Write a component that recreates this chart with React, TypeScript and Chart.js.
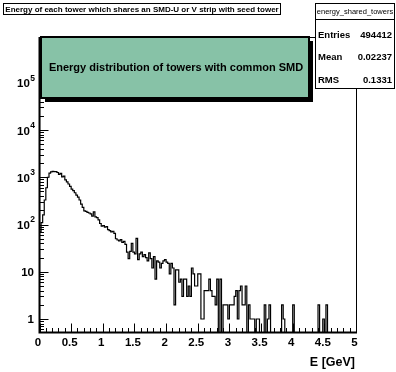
import React, { useEffect, useRef } from "react";
import { Chart, registerables } from "chart.js";

Chart.register(...registerables);

// ---------- data ----------
const binWidth = 0.025;
const xMin = 0;
const xMax = 5;
const yMin = 0.518;
const yMax = 9.3e5;

const counts: number[] = [
  474000, 70, 110, 160, 330, 600, 1000, 1220, 1300, 1330,
  1310, 1320, 1260, 1150, 1210, 1020, 1060, 880, 800, 720,
  640, 560, 520, 470, 420, 380, 330, 270, 230, 195,
  190, 180, 175, 168, 150, 185, 145, 140, 125, 105,
  92, 95, 88, 90, 78, 74, 70, 72, 65, 50,
  47, 45, 48, 42, 44, 38, 26, 19, 27, 40,
  26, 24, 51, 18, 24, 26, 21, 23, 20, 17,
  25, 19, 12, 21, 7, 17, 16, 12, 15, 17,
  18, 16, 15, 9, 15, 12, 2, 11, 11, 6,
  7, 3, 7, 7, 3, 5, 3, 12, 9, 5,
  5, 9, 9, 1, 1, 4, 4, 4, 7, 4,
  3, 3, 2, 7, 0, 7, 0, 2, 2, 2,
  1, 2, 2, 2, 3, 4, 1, 4, 5, 2,
  2, 5, 0, 2, 1, 1, 1, 0, 1, 1,
  0, 0, 0, 2, 0, 1, 2, 0, 0, 0,
  0, 0, 0, 0, 2, 1, 0, 0, 0, 0,
  0, 2, 0, 0, 0, 0, 0, 0, 0, 0,
  0, 0, 0, 0, 0, 0, 0, 2, 0, 0,
  1, 0, 2, 0, 0, 0, 0, 0, 0, 0,
  0, 0, 0, 0, 0, 0, 0, 0, 0, 0,
];

const xTickValues = [0, 0.5, 1, 1.5, 2, 2.5, 3, 3.5, 4, 4.5, 5];
const xTickLabels = ["0", "0.5", "1", "1.5", "2", "2.5", "3", "3.5", "4", "4.5", "5"];
const yTickValues = [1, 10, 100, 1000, 10000, 100000];
const yTickBases = ["1", "10", "10", "10", "10", "10"];
const yTickExponents = ["", "", "2", "3", "4", "5"];

const histTitle = "Energy of each tower which shares an SMD-U or V strip with seed tower";
const statsName = "energy_shared_towers";
const statsLabels = ["Entries", "Mean", "RMS"];
const statsValues = ["494412", "0.02237", "0.1331"];
const paveText = "Energy distribution of towers with common SMD";
const xTitle = "E [GeV]";

const FONT = '"Liberation Sans", Arial, Helvetica, sans-serif';

// ---------- overlay plugin ----------
const rootStyle = {
  id: "rootStyle",
  afterDraw(chart: any) {
    const ctx: CanvasRenderingContext2D = chart.ctx;
    const { left, right, top, bottom } = chart.chartArea;
    const xs = chart.scales.x;
    const ys = chart.scales.y;
    ctx.save();
    ctx.strokeStyle = "#000";
    ctx.fillStyle = "#000";

    // frame
    ctx.lineWidth = 1;
    ctx.beginPath();
    ctx.moveTo(right + 0.5, top);
    ctx.lineTo(right + 0.5, bottom);
    ctx.moveTo(left, top + 0.5);
    ctx.lineTo(right, top + 0.5);
    ctx.stroke();
    ctx.lineWidth = 2;
    ctx.beginPath();
    ctx.moveTo(left, top);
    ctx.lineTo(left, bottom);
    ctx.lineTo(right + 1, bottom);
    ctx.stroke();

    // x ticks
    ctx.lineWidth = 1;
    ctx.beginPath();
    for (let k = 0; k <= 50; k++) {
      const v = k / 10;
      const px = Math.round(xs.getPixelForValue(v)) + 0.5;
      const len = k % 5 === 0 ? 9 : 4.5;
      ctx.moveTo(px, bottom);
      ctx.lineTo(px, bottom - len);
    }
    // y ticks
    for (let d = -1; d <= 5; d++) {
      for (let m = 1; m <= 9; m++) {
        const v = m * Math.pow(10, d);
        if (v < yMin || v > yMax) continue;
        const py = Math.round(ys.getPixelForValue(v)) + 0.5;
        const len = m === 1 ? 9 : 4.5;
        ctx.moveTo(left, py);
        ctx.lineTo(left + len, py);
      }
    }
    ctx.stroke();

    // x labels
    ctx.font = `bold 11.5px ${FONT}`;
    ctx.textAlign = "center";
    ctx.textBaseline = "middle";
    xTickValues.forEach((v, i) => {
      ctx.fillText(xTickLabels[i], xs.getPixelForValue(v) - 1.5, bottom + 10);
    });
    ctx.textAlign = "right";
    ctx.font = `bold 12.5px ${FONT}`;
    ctx.fillText(xTitle, right - 1, bottom + 30);

    // y labels
    yTickValues.forEach((v, i) => {
      const py = ys.getPixelForValue(v);
      const ex = yTickExponents[i];
      if (ex) {
        ctx.font = `bold 8.5px ${FONT}`;
        ctx.textAlign = "right";
        ctx.fillText(ex, 35, py - 4.5);
        const w = ctx.measureText(ex).width;
        ctx.font = `bold 11.5px ${FONT}`;
        ctx.fillText(yTickBases[i], 35 - w - 0.5, py + 1.5);
      } else {
        ctx.font = `bold 11.5px ${FONT}`;
        ctx.textAlign = "right";
        ctx.fillText(yTickBases[i], 34, py + 1);
      }
    });

    // green pave
    const gx1 = 41, gy1 = 37, gx2 = 309, gy2 = 98;
    ctx.fillStyle = "#000";
    ctx.fillRect(gx1 + 4, gy1 + 4, gx2 - gx1, gy2 - gy1);
    ctx.fillStyle = "rgb(135,194,167)";
    ctx.fillRect(gx1, gy1, gx2 - gx1, gy2 - gy1);
    ctx.lineWidth = 2;
    ctx.strokeStyle = "#000";
    ctx.strokeRect(gx1, gy1, gx2 - gx1, gy2 - gy1);
    ctx.fillStyle = "#000";
    ctx.font = `bold 11px ${FONT}`;
    ctx.textAlign = "center";
    ctx.fillText(paveText, (gx1 + gx2) / 2 + 1, (gy1 + gy2) / 2);

    // title box
    ctx.lineWidth = 1;
    ctx.fillStyle = "#fff";
    ctx.fillRect(3, 3, 278, 12);
    ctx.strokeRect(3.5, 3.5, 277, 11);
    ctx.fillStyle = "#000";
    ctx.font = `bold 8px ${FONT}`;
    ctx.textAlign = "center";
    ctx.fillText(histTitle, 142, 9.5);

    // stats box
    ctx.fillStyle = "#fff";
    ctx.fillRect(315, 3, 80, 86);
    ctx.strokeRect(315.5, 3.5, 79, 85);
    ctx.beginPath();
    ctx.moveTo(315, 19.5);
    ctx.lineTo(395, 19.5);
    ctx.stroke();
    ctx.fillStyle = "#000";
    ctx.font = `7.5px ${FONT}`;
    ctx.textAlign = "center";
    ctx.fillText(statsName, 355, 11.5);
    ctx.font = `bold 9.5px ${FONT}`;
    const rowY = [35, 57.5, 80];
    statsLabels.forEach((lab, i) => {
      ctx.textAlign = "left";
      ctx.fillText(lab, 318, rowY[i]);
      ctx.textAlign = "right";
      ctx.fillText(statsValues[i], 392, rowY[i]);
    });

    ctx.restore();
  },
};

export default function App() {
  const canvasRef = useRef<HTMLCanvasElement | null>(null);

  useEffect(() => {
    const canvas = canvasRef.current;
    if (!canvas) return;
    const floorValue = 0.05;
    const points: { x: number; y: number }[] = [];
    points.push({ x: xMin, y: floorValue });
    counts.forEach((c, i) => {
      points.push({ x: xMin + i * binWidth, y: c > 0 ? c : floorValue });
    });
    points.push({ x: xMax, y: counts[counts.length - 1] > 0 ? counts[counts.length - 1] : floorValue });
    points.push({ x: xMax, y: floorValue });

    const chart = new Chart(canvas, {
      type: "line",
      data: {
        datasets: [
          {
            data: points,
            stepped: "after",
            borderColor: "#000",
            borderWidth: 1.2,
            pointRadius: 0,
            fill: false,
            tension: 0,
          },
        ],
      },
      options: {
        animation: false,
        responsive: false,
        devicePixelRatio: 1,
        parsing: false,
        normalized: true,
        layout: { padding: { left: 39.5, right: 40, top: 37, bottom: 39.5 } },
        plugins: {
          legend: { display: false },
          title: { display: false },
          tooltip: { enabled: false },
        },
        scales: {
          x: { type: "linear", min: xMin, max: xMax, display: false, bounds: "data" },
          y: { type: "logarithmic", min: yMin, max: yMax, display: false, bounds: "data" },
        },
      },
      plugins: [rootStyle],
    } as any);
    return () => chart.destroy();
  }, []);

  return (
    <div style={{ position: "fixed", left: 0, top: 0, width: 396, height: 372, background: "#fff" }}>
      <canvas ref={canvasRef} width={396} height={372} style={{ width: 396, height: 372, display: "block" }} />
    </div>
  );
}
